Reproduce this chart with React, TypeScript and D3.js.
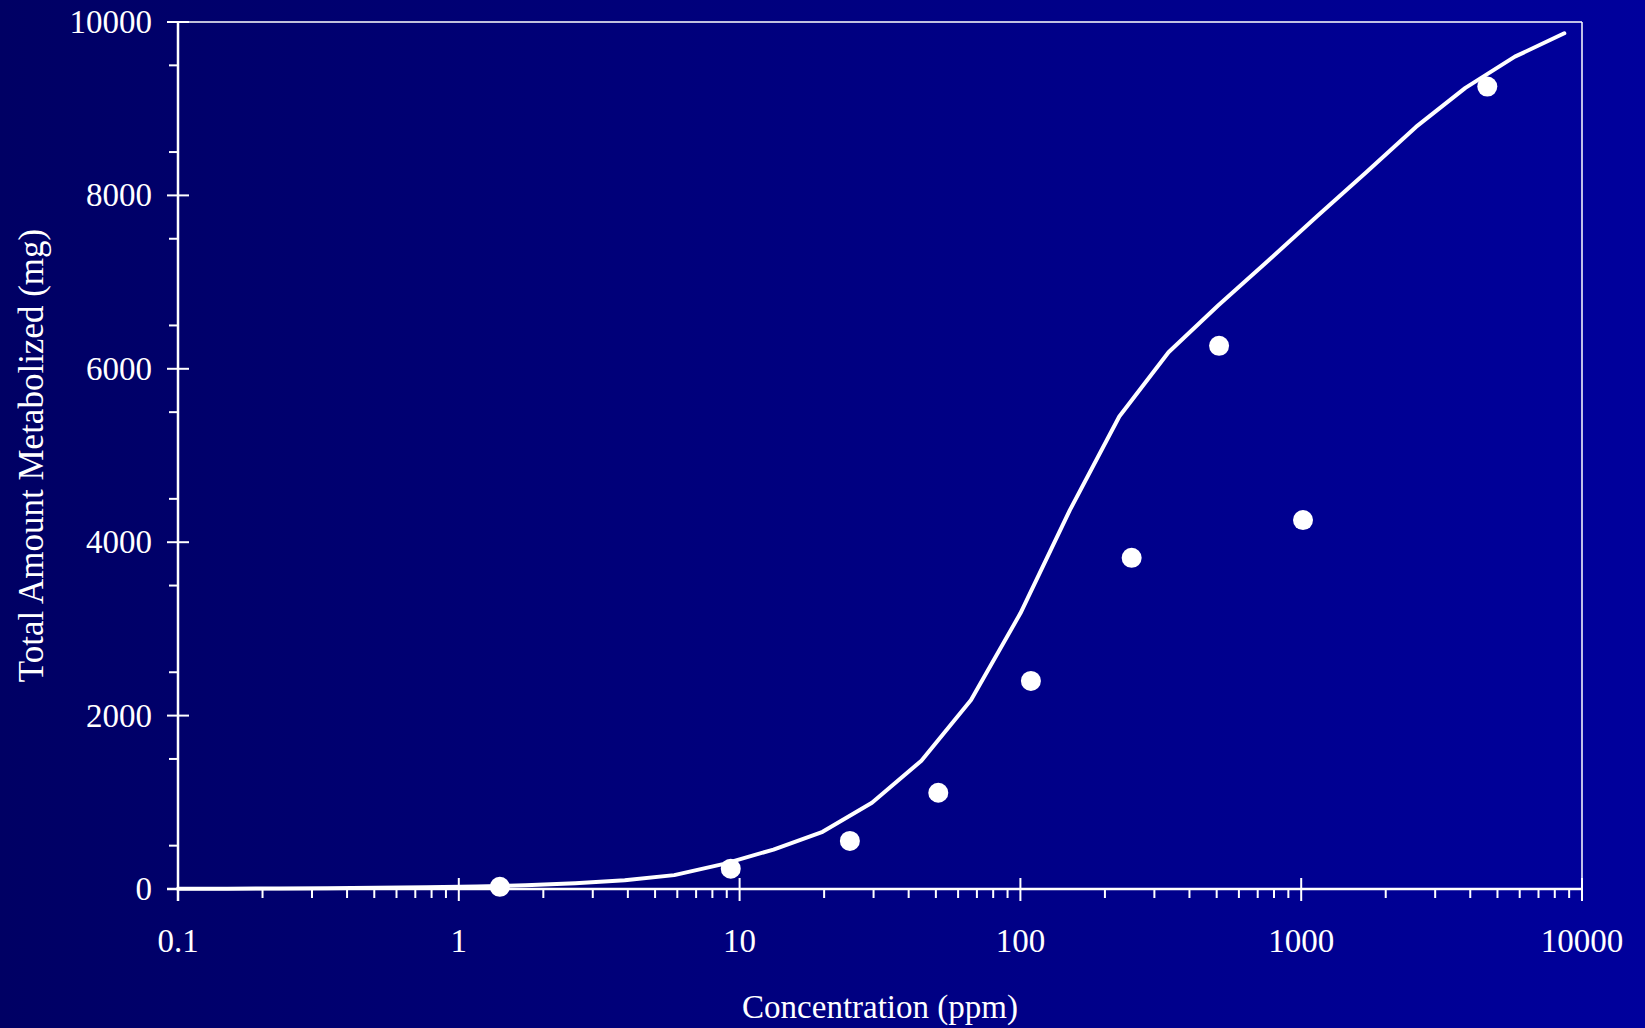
import React from "react";
import * as d3 from "d3";

// measured points (ppm, mg)
const pointConc = [1.4, 9.3, 24.7, 51, 109, 249, 510, 1015, 4600];
const pointAmount = [25, 235, 555, 1110, 2400, 3820, 6265, 4255, 9255];

// model curve
const curveConc = [0.1, 0.15, 0.23, 0.34, 0.51, 0.77, 1.16, 1.73, 2.6, 3.9, 5.85, 8.8, 13.2, 19.75, 29.6, 44.4, 66.7, 100, 150, 225, 337, 506, 759, 1139, 1709, 2563, 3844, 5767, 8650];
const curveAmount = [3, 4, 6, 9, 13, 19, 28, 42, 65, 100, 160, 290, 455, 660, 995, 1480, 2180, 3180, 4370, 5450, 6190, 6730, 7240, 7760, 8270, 8790, 9240, 9600, 9870];

const xTickLabels = ["0.1", "1", "10", "100", "1000", "10000"];
const yTickLabels = ["0", "2000", "4000", "6000", "8000", "10000"];

const width = 1645;
const height = 1028;
const font = "'Liberation Serif', 'Times New Roman', serif";

export default function App() {
  const left = 178, right = 1582, top = 22, bottom = 889;

  const x = d3.scaleLog().domain([0.1, 10000]).range([left, right]);
  const y = d3.scaleLinear().domain([0, 10000]).range([bottom, top]);

  // minor ticks: 2..9 of each decade
  const xMinor: number[] = [];
  for (let d = 0.1; d < 10000; d *= 10) {
    for (let k = 2; k <= 9; k++) xMinor.push(d * k);
  }
  const yMinor = d3.range(500, 10000, 1000);

  const line = d3.line<number>()
    .x((_, i) => x(curveConc[i]))
    .y((d) => y(d));

  return (
    <svg width={width} height={height} style={{ position: "absolute", left: 0, top: 0, display: "block" }}>
      <defs>
        <linearGradient id="bg" x1="0" y1="0" x2="1" y2="0">
          <stop offset="0%" stopColor="#000064" />
          <stop offset="100%" stopColor="#00009c" />
        </linearGradient>
      </defs>
      <rect x={0} y={0} width={width} height={height} fill="url(#bg)" />

      {/* frame: top and right thin */}
      <line x1={left} x2={right} y1={top} y2={top} stroke="white" strokeWidth={1.5} />
      <line x1={right} x2={right} y1={top} y2={bottom} stroke="white" strokeWidth={1.5} />

      {/* y axis */}
      <line x1={left} x2={left} y1={top} y2={bottom + 12} stroke="white" strokeWidth={2.5} />
      {yTickLabels.map((t) => (
        <g key={t}>
          <line x1={left - 11} x2={left + 11} y1={y(+t)} y2={y(+t)} stroke="white" strokeWidth={2} />
          <text x={152} y={y(+t) + 11} textAnchor="end" fill="white" fontFamily={font} fontSize={33}>{t}</text>
        </g>
      ))}
      {yMinor.map((v) => (
        <line key={v} x1={left - 9} x2={left} y1={y(v)} y2={y(v)} stroke="white" strokeWidth={2} />
      ))}

      {/* x axis */}
      <line x1={left - 11} x2={right} y1={bottom} y2={bottom} stroke="white" strokeWidth={2.5} />
      {xTickLabels.map((t) => (
        <g key={t}>
          <line x1={x(+t)} x2={x(+t)} y1={bottom - 11} y2={bottom + 12} stroke="white" strokeWidth={2} />
          <text x={x(+t)} y={952} textAnchor="middle" fill="white" fontFamily={font} fontSize={33}>{t}</text>
        </g>
      ))}
      {xMinor.map((v, i) => (
        <line key={i} x1={x(v)} x2={x(v)} y1={bottom} y2={bottom + 9} stroke="white" strokeWidth={2} />
      ))}

      {/* curve */}
      <path d={line(curveAmount) || ""} fill="none" stroke="white" strokeWidth={4} strokeLinejoin="round" strokeLinecap="round" />

      {/* data points */}
      {pointConc.map((c, i) => (
        <circle key={i} cx={x(c)} cy={y(pointAmount[i])} r={10} fill="white" />
      ))}

      {/* titles */}
      <text x={(left + right) / 2} y={1018} textAnchor="middle" fill="white" fontFamily={font} fontSize={33}>
        Concentration (ppm)
      </text>
      <text transform={`translate(43, ${(top + bottom) / 2}) rotate(-90)`} textAnchor="middle" fill="white" fontFamily={font} fontSize={35}>
        Total Amount Metabolized (mg)
      </text>
    </svg>
  );
}
